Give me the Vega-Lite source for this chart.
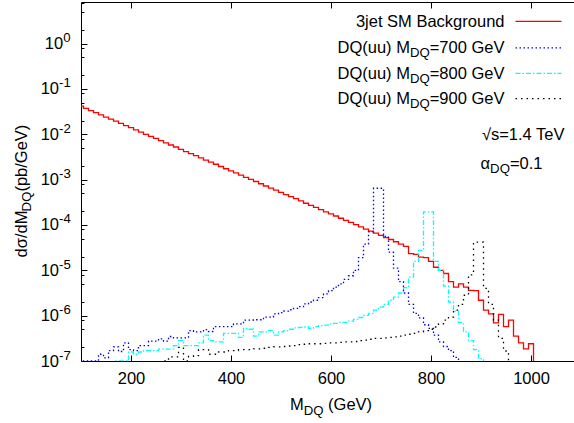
{
  "$schema": "https://vega.github.io/schema/vega-lite/v6.json",
  "width": 493,
  "height": 359,
  "autosize": {"type": "none"},
  "padding": {"left": 81, "top": 2, "right": 0, "bottom": 62},
  "background": "white",
  "config": {
    "view": {"stroke": null},
    "font": "Liberation Sans",
    "axis": {"domainColor": "#000", "tickColor": "#000", "labelColor": "#000", "labelFont": "Liberation Sans", "labelFontSize": 16.5, "grid": false, "domainWidth": 1, "tickWidth": 1, "title": null},
    "text": {"font": "Liberation Sans", "fontSize": 16.5, "color": "#000", "baseline": "alphabetic"}
  },
  "datasets": {
    "hist": [
      {"s":"bg","m":100,"v":4.17e-2},{"s":"bg","m":110,"v":3.72e-2},{"s":"bg","m":120,"v":3.35e-2},{"s":"bg","m":130,"v":3.02e-2},{"s":"bg","m":140,"v":2.69e-2},{"s":"bg","m":150,"v":2.40e-2},{"s":"bg","m":160,"v":2.16e-2},{"s":"bg","m":170,"v":1.95e-2},{"s":"bg","m":180,"v":1.74e-2},{"s":"bg","m":190,"v":1.55e-2},
      {"s":"bg","m":200,"v":1.40e-2},{"s":"bg","m":210,"v":1.26e-2},{"s":"bg","m":220,"v":1.12e-2},{"s":"bg","m":230,"v":1.00e-2},{"s":"bg","m":240,"v":9.02e-3},{"s":"bg","m":250,"v":8.13e-3},{"s":"bg","m":260,"v":7.24e-3},{"s":"bg","m":270,"v":6.46e-3},{"s":"bg","m":280,"v":5.82e-3},{"s":"bg","m":290,"v":5.25e-3},
      {"s":"bg","m":300,"v":4.68e-3},{"s":"bg","m":310,"v":4.17e-3},{"s":"bg","m":320,"v":3.76e-3},{"s":"bg","m":330,"v":3.39e-3},{"s":"bg","m":340,"v":3.02e-3},{"s":"bg","m":350,"v":2.69e-3},{"s":"bg","m":360,"v":2.43e-3},{"s":"bg","m":370,"v":2.19e-3},{"s":"bg","m":380,"v":1.95e-3},{"s":"bg","m":390,"v":1.74e-3},
      {"s":"bg","m":400,"v":1.57e-3},{"s":"bg","m":410,"v":1.41e-3},{"s":"bg","m":420,"v":1.26e-3},{"s":"bg","m":430,"v":1.12e-3},{"s":"bg","m":440,"v":1.01e-3},{"s":"bg","m":450,"v":9.12e-4},{"s":"bg","m":460,"v":8.13e-4},{"s":"bg","m":470,"v":7.24e-4},{"s":"bg","m":480,"v":6.53e-4},{"s":"bg","m":490,"v":5.89e-4},
      {"s":"bg","m":500,"v":5.25e-4},{"s":"bg","m":510,"v":4.68e-4},{"s":"bg","m":520,"v":4.22e-4},{"s":"bg","m":530,"v":3.80e-4},{"s":"bg","m":540,"v":3.39e-4},{"s":"bg","m":550,"v":3.02e-4},{"s":"bg","m":560,"v":2.72e-4},{"s":"bg","m":570,"v":2.45e-4},{"s":"bg","m":580,"v":2.19e-4},{"s":"bg","m":590,"v":1.95e-4},
      {"s":"bg","m":600,"v":1.76e-4},{"s":"bg","m":610,"v":1.58e-4},{"s":"bg","m":620,"v":1.41e-4},{"s":"bg","m":630,"v":1.26e-4},{"s":"bg","m":640,"v":1.14e-4},{"s":"bg","m":650,"v":1.02e-4},{"s":"bg","m":660,"v":9.12e-5},{"s":"bg","m":670,"v":8.13e-5},{"s":"bg","m":680,"v":7.33e-5},{"s":"bg","m":690,"v":6.61e-5},
      {"s":"bg","m":700,"v":5.89e-5},{"s":"bg","m":710,"v":5.25e-5},{"s":"bg","m":720,"v":4.79e-5},{"s":"bg","m":730,"v":4.27e-5},{"s":"bg","m":740,"v":3.80e-5},{"s":"bg","m":750,"v":3.39e-5},{"s":"bg","m":760,"v":2.34e-5},{"s":"bg","m":770,"v":2.24e-5},{"s":"bg","m":780,"v":1.95e-5},{"s":"bg","m":790,"v":1.91e-5},
      {"s":"bg","m":800,"v":1.58e-5},{"s":"bg","m":810,"v":1.17e-5},{"s":"bg","m":820,"v":1.00e-5},{"s":"bg","m":830,"v":8.51e-6},{"s":"bg","m":840,"v":5.62e-6},{"s":"bg","m":850,"v":4.27e-6},{"s":"bg","m":860,"v":5.01e-6},{"s":"bg","m":870,"v":4.27e-6},{"s":"bg","m":880,"v":3.63e-6},{"s":"bg","m":890,"v":3.55e-6},
      {"s":"bg","m":900,"v":2.19e-6},{"s":"bg","m":910,"v":1.32e-6},{"s":"bg","m":920,"v":1.10e-6},{"s":"bg","m":930,"v":6.92e-7},{"s":"bg","m":940,"v":1.07e-6},{"s":"bg","m":950,"v":5.75e-7},{"s":"bg","m":960,"v":7.94e-7},{"s":"bg","m":970,"v":3.55e-7},{"s":"bg","m":980,"v":2.51e-7},{"s":"bg","m":990,"v":1.86e-7},
      {"s":"bg","m":1000,"v":2.40e-7},{"s":"bg","m":1010,"v":1e-9},

      {"s":"700","m":100,"v":8.91e-8},{"s":"700","m":110,"v":1.00e-7},{"s":"700","m":120,"v":1.00e-7},{"s":"700","m":130,"v":1.00e-7},{"s":"700","m":140,"v":1.41e-7},{"s":"700","m":150,"v":1.17e-7},{"s":"700","m":160,"v":1.70e-7},{"s":"700","m":170,"v":2.04e-7},{"s":"700","m":180,"v":1.62e-7},{"s":"700","m":190,"v":2.51e-7},
      {"s":"700","m":200,"v":1.78e-7},{"s":"700","m":210,"v":1.70e-7},{"s":"700","m":220,"v":2.19e-7},{"s":"700","m":230,"v":2.19e-7},{"s":"700","m":240,"v":2.75e-7},{"s":"700","m":250,"v":2.75e-7},{"s":"700","m":260,"v":3.09e-7},{"s":"700","m":270,"v":2.75e-7},{"s":"700","m":280,"v":3.47e-7},{"s":"700","m":290,"v":3.24e-7},
      {"s":"700","m":300,"v":3.24e-7},{"s":"700","m":310,"v":3.24e-7},{"s":"700","m":320,"v":4.68e-7},{"s":"700","m":330,"v":4.37e-7},{"s":"700","m":340,"v":4.37e-7},{"s":"700","m":350,"v":4.90e-7},{"s":"700","m":360,"v":4.47e-7},{"s":"700","m":370,"v":5.75e-7},{"s":"700","m":380,"v":5.75e-7},{"s":"700","m":390,"v":5.75e-7},
      {"s":"700","m":400,"v":5.75e-7},{"s":"700","m":410,"v":6.61e-7},{"s":"700","m":420,"v":6.61e-7},{"s":"700","m":430,"v":7.94e-7},{"s":"700","m":440,"v":7.94e-7},{"s":"700","m":450,"v":8.13e-7},{"s":"700","m":460,"v":8.13e-7},{"s":"700","m":470,"v":9.33e-7},{"s":"700","m":480,"v":9.33e-7},{"s":"700","m":490,"v":1.10e-6},
      {"s":"700","m":500,"v":1.17e-6},{"s":"700","m":510,"v":1.26e-6},{"s":"700","m":520,"v":1.35e-6},{"s":"700","m":530,"v":1.45e-6},{"s":"700","m":540,"v":1.58e-6},{"s":"700","m":550,"v":1.82e-6},{"s":"700","m":560,"v":2.00e-6},{"s":"700","m":570,"v":2.19e-6},{"s":"700","m":580,"v":2.51e-6},{"s":"700","m":590,"v":3.02e-6},
      {"s":"700","m":600,"v":3.55e-6},{"s":"700","m":610,"v":4.27e-6},{"s":"700","m":620,"v":5.01e-6},{"s":"700","m":630,"v":6.31e-6},{"s":"700","m":640,"v":7.59e-6},{"s":"700","m":650,"v":1.00e-5},{"s":"700","m":660,"v":1.91e-5},{"s":"700","m":670,"v":3.80e-5},{"s":"700","m":680,"v":7.08e-5},{"s":"700","m":690,"v":6.46e-4},
      {"s":"700","m":700,"v":6.46e-4},{"s":"700","m":710,"v":5.62e-5},{"s":"700","m":720,"v":2.51e-5},{"s":"700","m":730,"v":1.12e-5},{"s":"700","m":740,"v":5.62e-6},{"s":"700","m":750,"v":3.16e-6},{"s":"700","m":760,"v":1.78e-6},{"s":"700","m":770,"v":1.12e-6},{"s":"700","m":780,"v":8.91e-7},{"s":"700","m":790,"v":6.31e-7},
      {"s":"700","m":800,"v":5.25e-7},{"s":"700","m":810,"v":3.72e-7},{"s":"700","m":820,"v":2.63e-7},{"s":"700","m":830,"v":2.09e-7},{"s":"700","m":840,"v":1.70e-7},{"s":"700","m":850,"v":1.20e-7},{"s":"700","m":860,"v":8.91e-8},{"s":"700","m":870,"v":5e-8},

      {"s":"800","m":140,"v":5e-8},{"s":"800","m":150,"v":7.94e-8},{"s":"800","m":160,"v":8.91e-8},{"s":"800","m":170,"v":1.00e-7},{"s":"800","m":180,"v":1.00e-7},{"s":"800","m":190,"v":1.00e-7},
      {"s":"800","m":200,"v":1.58e-7},{"s":"800","m":210,"v":1.41e-7},{"s":"800","m":220,"v":1.58e-7},{"s":"800","m":230,"v":1.70e-7},{"s":"800","m":240,"v":1.70e-7},{"s":"800","m":250,"v":1.70e-7},{"s":"800","m":260,"v":1.82e-7},{"s":"800","m":270,"v":1.82e-7},{"s":"800","m":280,"v":1.82e-7},{"s":"800","m":290,"v":2.19e-7},
      {"s":"800","m":300,"v":2.82e-7},{"s":"800","m":310,"v":2.19e-7},{"s":"800","m":320,"v":2.19e-7},{"s":"800","m":330,"v":2.19e-7},{"s":"800","m":340,"v":2.51e-7},{"s":"800","m":350,"v":3.72e-7},{"s":"800","m":360,"v":2.82e-7},{"s":"800","m":370,"v":2.63e-7},{"s":"800","m":380,"v":2.63e-7},{"s":"800","m":390,"v":4.07e-7},
      {"s":"800","m":400,"v":4.07e-7},{"s":"800","m":410,"v":4.07e-7},{"s":"800","m":420,"v":3.31e-7},{"s":"800","m":430,"v":5.25e-7},{"s":"800","m":440,"v":5.01e-7},{"s":"800","m":450,"v":3.55e-7},{"s":"800","m":460,"v":4.37e-7},{"s":"800","m":470,"v":4.37e-7},{"s":"800","m":480,"v":4.68e-7},{"s":"800","m":490,"v":3.72e-7},
      {"s":"800","m":500,"v":4.37e-7},{"s":"800","m":510,"v":4.68e-7},{"s":"800","m":520,"v":5.01e-7},{"s":"800","m":530,"v":5.37e-7},{"s":"800","m":540,"v":5.50e-7},{"s":"800","m":550,"v":5.62e-7},{"s":"800","m":560,"v":5.25e-7},{"s":"800","m":570,"v":5.75e-7},{"s":"800","m":580,"v":6.03e-7},{"s":"800","m":590,"v":6.17e-7},
      {"s":"800","m":600,"v":6.61e-7},{"s":"800","m":610,"v":6.76e-7},{"s":"800","m":620,"v":7.08e-7},{"s":"800","m":630,"v":7.08e-7},{"s":"800","m":640,"v":7.59e-7},{"s":"800","m":650,"v":8.32e-7},{"s":"800","m":660,"v":9.12e-7},{"s":"800","m":670,"v":1.02e-6},{"s":"800","m":680,"v":1.12e-6},{"s":"800","m":690,"v":1.32e-6},
      {"s":"800","m":700,"v":1.55e-6},{"s":"800","m":710,"v":1.78e-6},{"s":"800","m":720,"v":2.19e-6},{"s":"800","m":730,"v":2.57e-6},{"s":"800","m":740,"v":3.16e-6},{"s":"800","m":750,"v":4.17e-6},{"s":"800","m":760,"v":7.08e-6},{"s":"800","m":770,"v":1.58e-5},{"s":"800","m":780,"v":2.75e-5},{"s":"800","m":790,"v":1.95e-4},
      {"s":"800","m":800,"v":1.95e-4},{"s":"800","m":810,"v":1.58e-5},{"s":"800","m":820,"v":1.00e-5},{"s":"800","m":830,"v":4.47e-6},{"s":"800","m":840,"v":2.00e-6},{"s":"800","m":850,"v":1.26e-6},{"s":"800","m":860,"v":7.08e-7},{"s":"800","m":870,"v":4.37e-7},{"s":"800","m":880,"v":2.82e-7},{"s":"800","m":890,"v":1.78e-7},
      {"s":"800","m":900,"v":1.12e-7},{"s":"800","m":910,"v":7.94e-8},{"s":"800","m":920,"v":5e-8},

      {"s":"900","m":250,"v":5e-8},{"s":"900","m":260,"v":8.91e-8},{"s":"900","m":270,"v":1.00e-7},{"s":"900","m":280,"v":1.23e-7},{"s":"900","m":290,"v":1.23e-7},
      {"s":"900","m":300,"v":2.00e-7},{"s":"900","m":310,"v":1.00e-7},{"s":"900","m":320,"v":1.26e-7},{"s":"900","m":330,"v":1.32e-7},{"s":"900","m":340,"v":1.78e-7},{"s":"900","m":350,"v":1.78e-7},{"s":"900","m":360,"v":1.41e-7},{"s":"900","m":370,"v":1.41e-7},{"s":"900","m":380,"v":1.58e-7},{"s":"900","m":390,"v":1.58e-7},
      {"s":"900","m":400,"v":1.70e-7},{"s":"900","m":410,"v":1.70e-7},{"s":"900","m":420,"v":1.78e-7},{"s":"900","m":430,"v":1.78e-7},{"s":"900","m":440,"v":1.78e-7},{"s":"900","m":450,"v":1.86e-7},{"s":"900","m":460,"v":1.86e-7},{"s":"900","m":470,"v":1.91e-7},{"s":"900","m":480,"v":2.00e-7},{"s":"900","m":490,"v":2.04e-7},
      {"s":"900","m":500,"v":2.04e-7},{"s":"900","m":510,"v":2.09e-7},{"s":"900","m":520,"v":2.14e-7},{"s":"900","m":530,"v":2.19e-7},{"s":"900","m":540,"v":2.29e-7},{"s":"900","m":550,"v":2.34e-7},{"s":"900","m":560,"v":2.40e-7},{"s":"900","m":570,"v":2.40e-7},{"s":"900","m":580,"v":2.40e-7},{"s":"900","m":590,"v":2.45e-7},
      {"s":"900","m":600,"v":2.51e-7},{"s":"900","m":610,"v":2.51e-7},{"s":"900","m":620,"v":2.57e-7},{"s":"900","m":630,"v":2.63e-7},{"s":"900","m":640,"v":2.63e-7},{"s":"900","m":650,"v":2.69e-7},{"s":"900","m":660,"v":2.82e-7},{"s":"900","m":670,"v":2.88e-7},{"s":"900","m":680,"v":3.02e-7},{"s":"900","m":690,"v":3.16e-7},
      {"s":"900","m":700,"v":3.16e-7},{"s":"900","m":710,"v":3.24e-7},{"s":"900","m":720,"v":3.31e-7},{"s":"900","m":730,"v":3.39e-7},{"s":"900","m":740,"v":3.55e-7},{"s":"900","m":750,"v":3.72e-7},{"s":"900","m":760,"v":3.89e-7},{"s":"900","m":770,"v":4.07e-7},{"s":"900","m":780,"v":4.37e-7},{"s":"900","m":790,"v":4.68e-7},
      {"s":"900","m":800,"v":5.01e-7},{"s":"900","m":810,"v":5.62e-7},{"s":"900","m":820,"v":6.61e-7},{"s":"900","m":830,"v":7.94e-7},{"s":"900","m":840,"v":9.33e-7},{"s":"900","m":850,"v":1.32e-6},{"s":"900","m":860,"v":1.78e-6},{"s":"900","m":870,"v":2.82e-6},{"s":"900","m":880,"v":7.94e-6},{"s":"900","m":890,"v":4.17e-5},
      {"s":"900","m":900,"v":4.17e-5},{"s":"900","m":910,"v":3.98e-6},{"s":"900","m":920,"v":1.78e-6},{"s":"900","m":930,"v":7.94e-7},{"s":"900","m":940,"v":3.16e-7},{"s":"900","m":950,"v":1.66e-7},{"s":"900","m":960,"v":7.94e-8},{"s":"900","m":970,"v":5e-8}
    ]
  },
  "resolve": {"axis": {"x": "independent", "y": "independent"}},
  "layer": [
    {
      "data": {"name": "hist"},
      "mark": {"type": "line", "interpolate": "step", "clip": true, "strokeWidth": 1.3},
      "encoding": {
        "x": {"field": "m", "type": "quantitative", "scale": {"domain": [100, 1086], "nice": false, "zero": false},
              "axis": {"orient": "bottom", "values": [200, 400, 600, 800, 1000], "format": "d", "tickSize": -6, "labelPadding": 15, "labelAngle": 0, "domain": true}},
        "y": {"field": "v", "type": "quantitative", "scale": {"type": "log", "domain": [1e-7, 8.3], "nice": false},
              "axis": {"orient": "left", "values": [1e-7, 1e-6, 1e-5, 1e-4, 1e-3, 1e-2, 1e-1, 1], "labelExpr": "'10'", "ticks": false, "domain": true, "labelAlign": "right", "labelBaseline": "middle",
                       "labelPadding": {"condition": {"test": "datum.value == 1", "value": 18.3}, "value": 22.5}}},
        "color": {"field": "s", "type": "nominal", "scale": {"domain": ["bg", "700", "800", "900"], "range": ["#ff0000", "#0000ff", "#00ffff", "#000000"]}, "legend": null},
        "strokeDash": {"field": "s", "type": "nominal", "scale": {"domain": ["bg", "700", "800", "900"], "range": [[1, 0], [1.5, 2.5], [5, 2, 1.5, 2], [1.5, 4]]}, "legend": null}
      }
    },
    {
      "data": {"name": "hist"},
      "mark": {"type": "point", "opacity": 0, "size": 0},
      "encoding": {
        "x": {"field": "m", "type": "quantitative", "axis": {"orient": "top", "values": [200, 400, 600, 800, 1000], "tickSize": -6, "labels": false, "domain": true}},
        "y": {"field": "v", "type": "quantitative",
              "axis": {"orient": "left", "values": [1e-7, 1e-6, 1e-5, 1e-4, 1e-3, 1e-2, 1e-1, 1], "ticks": false, "domain": false, "labelFontSize": 13.2, "labelAlign": "left", "labelBaseline": "middle", "labelOffset": -6,
                       "labelExpr": "datum.value == 1 ? '0' : '-' + round(-log(datum.value) / LN10)",
                       "labelPadding": {"condition": {"test": "datum.value == 1", "value": 18.3}, "value": 22.5}}}
      }
    },
    {
      "data": {"name": "hist"},
      "mark": {"type": "point", "opacity": 0, "size": 0},
      "encoding": {
        "x": {"field": "m", "type": "quantitative", "axis": null},
        "y": {"field": "v", "type": "quantitative",
              "axis": {"orient": "left", "labels": false, "domain": false,
                       "values": [1e-7, 2e-7, 5e-7, 8e-7, 1e-6, 2e-6, 5e-6, 8e-6, 1e-5, 2e-5, 5e-5, 8e-5, 1e-4, 2e-4, 5e-4, 8e-4, 1e-3, 2e-3, 5e-3, 8e-3, 1e-2, 2e-2, 5e-2, 8e-2, 1e-1, 2e-1, 5e-1, 8e-1, 1, 2, 5, 8],
                       "tickSize": {"condition": {"test": "abs(log(datum.value) / LN10 - round(log(datum.value) / LN10)) < 0.001", "value": -6}, "value": -3}}}
      }
    },
    {
      "data": {"values": [{}]},
      "mark": {"type": "rule", "color": "#ff0000", "strokeWidth": 1.3},
      "encoding": {"x": {"datum": 969, "axis": null}, "x2": {"datum": 1061}, "y": {"datum": 3.10, "axis": null}}
    },
    {
      "data": {"values": [{}]},
      "mark": {"type": "rule", "color": "#0000ff", "strokeWidth": 1.3, "strokeDash": [1.5, 2.5]},
      "encoding": {"x": {"datum": 969, "axis": null}, "x2": {"datum": 1061}, "y": {"datum": 0.808, "axis": null}}
    },
    {
      "data": {"values": [{}]},
      "mark": {"type": "rule", "color": "#00ffff", "strokeWidth": 1.3, "strokeDash": [5, 2, 1.5, 2]},
      "encoding": {"x": {"datum": 969, "axis": null}, "x2": {"datum": 1061}, "y": {"datum": 0.221, "axis": null}}
    },
    {
      "data": {"values": [{}]},
      "mark": {"type": "rule", "color": "#000000", "strokeWidth": 1.3, "strokeDash": [1.5, 4]},
      "encoding": {"x": {"datum": 969, "axis": null}, "x2": {"datum": 1061}, "y": {"datum": 0.0612, "axis": null}}
    },
    {
      "data": {"values": [{}]},
      "mark": {"type": "text", "text": "3jet SM Background", "align": "right", "dy": 5.5},
      "encoding": {"x": {"datum": 947, "axis": null}, "y": {"datum": 3.10, "axis": null}}
    },
    {
      "data": {"values": [{}]},
      "mark": {"type": "text", "text": "=700 GeV", "align": "right", "dy": 5.5},
      "encoding": {"x": {"datum": 947, "axis": null}, "y": {"datum": 0.808, "axis": null}}
    },
    {
      "data": {"values": [{}]},
      "mark": {"type": "text", "text": "DQ", "align": "right", "dx": -74.8, "dy": 9.5, "fontSize": 13.2},
      "encoding": {"x": {"datum": 947, "axis": null}, "y": {"datum": 0.808, "axis": null}}
    },
    {
      "data": {"values": [{}]},
      "mark": {"type": "text", "text": "DQ(uu) M", "align": "right", "dx": -94.6, "dy": 5.5},
      "encoding": {"x": {"datum": 947, "axis": null}, "y": {"datum": 0.808, "axis": null}}
    },
    {
      "data": {"values": [{}]},
      "mark": {"type": "text", "text": "=800 GeV", "align": "right", "dy": 5.5},
      "encoding": {"x": {"datum": 947, "axis": null}, "y": {"datum": 0.221, "axis": null}}
    },
    {
      "data": {"values": [{}]},
      "mark": {"type": "text", "text": "DQ", "align": "right", "dx": -74.8, "dy": 9.5, "fontSize": 13.2},
      "encoding": {"x": {"datum": 947, "axis": null}, "y": {"datum": 0.221, "axis": null}}
    },
    {
      "data": {"values": [{}]},
      "mark": {"type": "text", "text": "DQ(uu) M", "align": "right", "dx": -94.6, "dy": 5.5},
      "encoding": {"x": {"datum": 947, "axis": null}, "y": {"datum": 0.221, "axis": null}}
    },
    {
      "data": {"values": [{}]},
      "mark": {"type": "text", "text": "=900 GeV", "align": "right", "dy": 5.5},
      "encoding": {"x": {"datum": 947, "axis": null}, "y": {"datum": 0.0612, "axis": null}}
    },
    {
      "data": {"values": [{}]},
      "mark": {"type": "text", "text": "DQ", "align": "right", "dx": -74.8, "dy": 9.5, "fontSize": 13.2},
      "encoding": {"x": {"datum": 947, "axis": null}, "y": {"datum": 0.0612, "axis": null}}
    },
    {
      "data": {"values": [{}]},
      "mark": {"type": "text", "text": "DQ(uu) M", "align": "right", "dx": -94.6, "dy": 5.5},
      "encoding": {"x": {"datum": 947, "axis": null}, "y": {"datum": 0.0612, "axis": null}}
    },
    {
      "data": {"values": [{}]},
      "mark": {"type": "text", "text": "√s=1.4 TeV", "align": "right"},
      "encoding": {"x": {"datum": 1067, "axis": null}, "y": {"datum": 7.62e-3, "axis": null}}
    },
    {
      "data": {"values": [{}]},
      "mark": {"type": "text", "text": "=0.1", "align": "right"},
      "encoding": {"x": {"datum": 1023, "axis": null}, "y": {"datum": 1.747e-3, "axis": null}}
    },
    {
      "data": {"values": [{}]},
      "mark": {"type": "text", "text": "DQ", "align": "right", "dx": -32.6, "dy": 4, "fontSize": 13.2},
      "encoding": {"x": {"datum": 1023, "axis": null}, "y": {"datum": 1.747e-3, "axis": null}}
    },
    {
      "data": {"values": [{}]},
      "mark": {"type": "text", "text": "α", "align": "right", "dx": -52.4},
      "encoding": {"x": {"datum": 1023, "axis": null}, "y": {"datum": 1.747e-3, "axis": null}}
    },
    {
      "data": {"values": [{}]},
      "mark": {"type": "text", "text": "M", "align": "left", "dx": -41},
      "encoding": {"x": {"datum": 600, "axis": null}, "y": {"datum": 8.13e-9, "axis": null}}
    },
    {
      "data": {"values": [{}]},
      "mark": {"type": "text", "text": "DQ", "align": "left", "dx": -27.3, "dy": 4.5, "fontSize": 13.2},
      "encoding": {"x": {"datum": 600, "axis": null}, "y": {"datum": 8.13e-9, "axis": null}}
    },
    {
      "data": {"values": [{}]},
      "mark": {"type": "text", "text": "(GeV)", "align": "left", "dx": -2.9},
      "encoding": {"x": {"datum": 600, "axis": null}, "y": {"datum": 8.13e-9, "axis": null}}
    },
    {
      "data": {"values": [{}]},
      "mark": {"type": "text", "text": "dσ/dM", "align": "left", "angle": 270},
      "encoding": {"x": {"datum": -9, "axis": null}, "y": {"datum": 1.93e-5, "axis": null}}
    },
    {
      "data": {"values": [{}]},
      "mark": {"type": "text", "text": "DQ", "align": "left", "angle": 270, "dx": 46, "dy": 4.5, "fontSize": 13.2},
      "encoding": {"x": {"datum": -9, "axis": null}, "y": {"datum": 1.93e-5, "axis": null}}
    },
    {
      "data": {"values": [{}]},
      "mark": {"type": "text", "text": "(pb/GeV)", "align": "left", "angle": 270, "dx": 65.8},
      "encoding": {"x": {"datum": -9, "axis": null}, "y": {"datum": 1.93e-5, "axis": null}}
    }
  ]
}
